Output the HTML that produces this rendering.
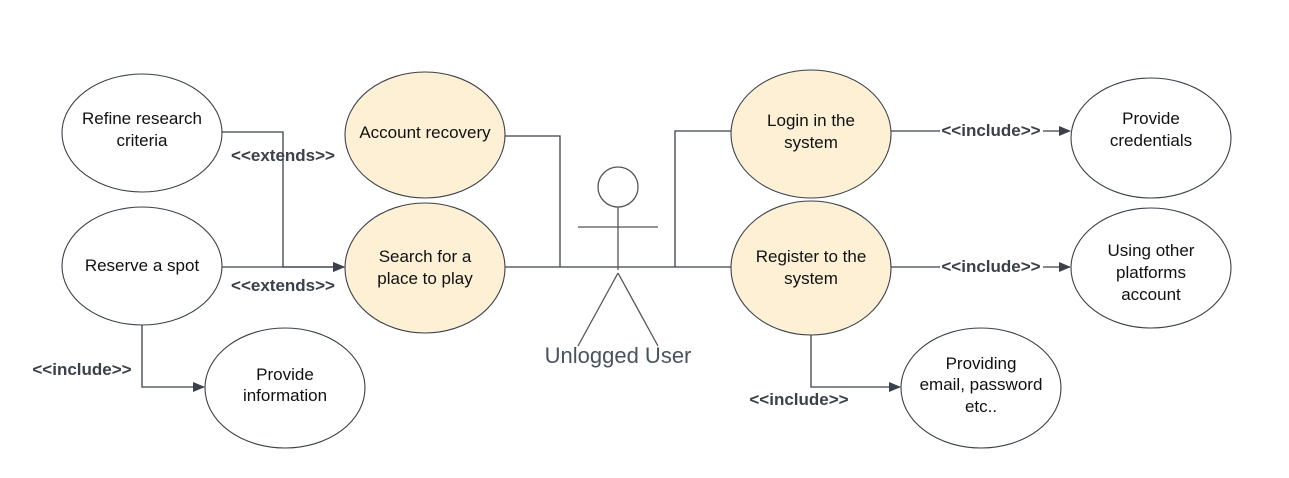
<!DOCTYPE html>
<html><head><style>body{margin:0;background:#fff}</style></head><body>
<svg width="1289" height="473" viewBox="0 0 1289 473" xmlns="http://www.w3.org/2000/svg" font-family="Liberation Sans, sans-serif">
<defs><marker id="a" markerWidth="12" markerHeight="10" refX="11" refY="5" orient="auto" markerUnits="userSpaceOnUse"><path d="M0,0 L12,5 L0,10 z" fill="#3a414a"/></marker></defs>
<g fill="none" stroke="#3a414a" stroke-width="1.3">
<path d="M222,132 H283 V267 H344" marker-end="url(#a)"/>
<path d="M222,267 H344" marker-end="url(#a)"/>
<path d="M504,136 H560 V267"/>
<path d="M505,267 H731"/>
<path d="M731,131 H675 V267"/>
<path d="M142,325 V387 H204" marker-end="url(#a)"/>
<path d="M811,335 V387 H900" marker-end="url(#a)"/>
<path d="M891,131 H940 M1043,131 H1070" marker-end="url(#a)"/>
<path d="M891,267 H940 M1043,267 H1070" marker-end="url(#a)"/>
</g>
<g stroke="#3a414a" stroke-width="1.1">
<ellipse cx="142" cy="133" rx="80" ry="59" fill="#fff"/>
<ellipse cx="142" cy="266" rx="80" ry="59" fill="#fff"/>
<ellipse cx="285" cy="388" rx="80" ry="60" fill="#fff"/>
<ellipse cx="425" cy="135" rx="80" ry="63" fill="#fdf0d5"/>
<ellipse cx="425" cy="268" rx="80" ry="65" fill="#fdf0d5"/>
<ellipse cx="811" cy="134" rx="80" ry="64" fill="#fdf0d5"/>
<ellipse cx="811" cy="268" rx="80" ry="67" fill="#fdf0d5"/>
<ellipse cx="1151" cy="138" rx="80" ry="60" fill="#fff"/>
<ellipse cx="1151" cy="268" rx="80" ry="60" fill="#fff"/>
<ellipse cx="981" cy="388" rx="80" ry="60" fill="#fff"/>
</g>
<g stroke="#555" stroke-width="1.3" fill="none">
<circle cx="618" cy="187" r="20"/>
<path d="M618,207 V270 M578,227 H658 M618,273 L578,346 M618,273 L658,346"/>
</g>
<text x="618" y="363" text-anchor="middle" font-size="22" fill="#4a5260">Unlogged User</text>
<g font-size="17" fill="#111" text-anchor="middle">
<text x="142" y="124">Refine research</text><text x="142" y="146">criteria</text>
<text x="142" y="271">Reserve a spot</text>
<text x="285" y="380">Provide</text><text x="285" y="401">information</text>
<text x="425" y="138">Account recovery</text>
<text x="425" y="262">Search for a</text><text x="425" y="284">place to play</text>
<text x="811" y="126">Login in the</text><text x="811" y="148">system</text>
<text x="811" y="262">Register to the</text><text x="811" y="284">system</text>
<text x="1151" y="124">Provide</text><text x="1151" y="146">credentials</text>
<text x="1151" y="256">Using other</text><text x="1151" y="278">platforms</text><text x="1151" y="300">account</text>
<text x="981" y="369">Providing</text><text x="981" y="390">email, password</text><text x="981" y="412">etc..</text>
</g>
<g font-size="17" font-weight="bold" fill="#3a414a" text-anchor="middle">
<text x="283" y="161">&lt;&lt;extends&gt;&gt;</text>
<text x="283" y="291">&lt;&lt;extends&gt;&gt;</text>
<text x="82" y="375">&lt;&lt;include&gt;&gt;</text>
<text x="799" y="405">&lt;&lt;include&gt;&gt;</text>
<text x="991" y="136">&lt;&lt;include&gt;&gt;</text>
<text x="991" y="272">&lt;&lt;include&gt;&gt;</text>
</g>
</svg>
</body></html>
